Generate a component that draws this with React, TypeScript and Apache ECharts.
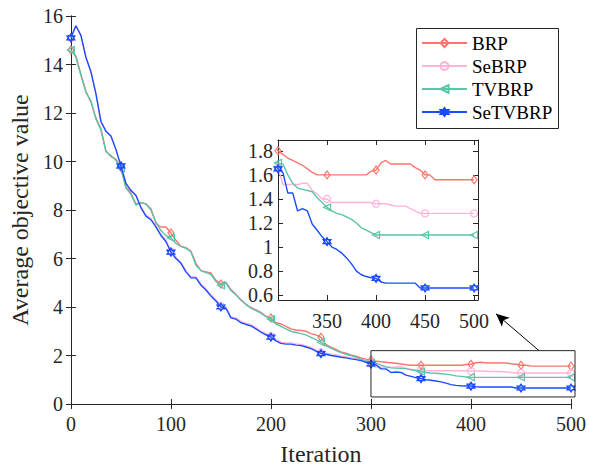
import React, { useEffect, useRef } from "react";
import * as echarts from "echarts";

// Iterations sampled every 5 steps, 0..500
const iterations: number[] = Array.from({ length: 101 }, (_, i) => i * 5);

const seriesNames = ["BRP", "SeBRP", "TVBRP", "SeTVBRP"];

const brpValues = [
  14.6, 14.35, 13.6, 12.9, 12.45, 11.8, 11.35, 10.45, 10.2, 10.1, 9.75,
  8.95, 8.7, 8.25, 8.3, 8.25, 8.05, 7.45, 7.3, 7.3, 7.05,
  6.75, 6.5, 6.45, 6.3, 5.8, 5.5, 5.45, 5.4, 5.1, 4.95,
  5.02, 4.72, 4.52, 4.3, 4.12, 3.98, 3.88, 3.78, 3.62, 3.55,
  3.35, 3.3, 3.2, 3.1, 3.05, 3.03, 3.0, 2.9, 2.85, 2.75,
  2.45, 2.35, 2.25, 2.15, 2.1, 2.02, 1.97, 1.9, 1.85, 1.8,
  1.77, 1.74, 1.72, 1.7, 1.68, 1.65, 1.62, 1.6, 1.6, 1.6,
  1.6, 1.6, 1.6, 1.6, 1.6, 1.6, 1.6, 1.6, 1.63, 1.64,
  1.7, 1.72, 1.69, 1.69, 1.69, 1.69, 1.69, 1.66, 1.64, 1.6,
  1.6, 1.56, 1.56, 1.56, 1.56, 1.56, 1.56, 1.56, 1.56, 1.56,
];

const sebrpValues = [
  15.1, 15.6, 15.2, 14.3, 13.7, 12.8, 11.65, 11.25, 11.05, 10.5, 9.82,
  9.12, 8.83, 8.63, 8.14, 7.8, 7.64, 7.34, 7.0, 6.75, 6.3,
  6.05, 5.85, 5.5, 5.25, 5.24, 4.95, 4.75, 4.5, 4.3, 4.05,
  4.0, 3.6, 3.55, 3.4, 3.33, 3.27, 3.15, 3.0, 2.9, 2.8,
  2.65, 2.55, 2.52, 2.52, 2.48, 2.46, 2.4, 2.33, 2.23, 2.13,
  2.1, 2.05, 2.02, 1.98, 1.95, 1.91, 1.88, 1.82, 1.74, 1.66,
  1.52, 1.52, 1.52, 1.52, 1.53, 1.53, 1.47, 1.44, 1.4, 1.4,
  1.37, 1.37, 1.37, 1.37, 1.37, 1.37, 1.37, 1.37, 1.37, 1.36,
  1.36, 1.36, 1.35, 1.34, 1.34, 1.34, 1.32, 1.3, 1.28, 1.28,
  1.28, 1.28, 1.28, 1.28, 1.28, 1.28, 1.28, 1.28, 1.28, 1.28,
];

const tvbrpValues = [
  14.6, 14.3, 13.55, 12.85, 12.5, 11.75, 11.3, 10.4, 10.25, 10.05, 9.72,
  8.9, 8.65, 8.2, 8.3, 8.25, 8.0, 7.5, 7.15, 6.95, 6.85,
  6.62, 6.5, 6.42, 6.28, 5.72, 5.5, 5.42, 5.35, 5.05, 4.9,
  5.0, 4.68, 4.5, 4.28, 4.1, 3.95, 3.85, 3.75, 3.6, 3.5,
  3.3, 3.2, 3.1, 3.0, 2.95, 2.9, 2.85, 2.75, 2.65, 2.55,
  2.4, 2.3, 2.2, 2.12, 2.05, 2.0, 1.93, 1.85, 1.78, 1.7,
  1.69, 1.6, 1.53, 1.49, 1.48, 1.47, 1.46, 1.41, 1.37, 1.33,
  1.3, 1.28, 1.27, 1.25, 1.23, 1.2, 1.16, 1.14, 1.12, 1.1,
  1.1, 1.1, 1.1, 1.1, 1.1, 1.1, 1.1, 1.1, 1.1, 1.1,
  1.1, 1.1, 1.1, 1.1, 1.1, 1.1, 1.1, 1.1, 1.1, 1.1,
];

const setvbrpValues = [
  15.1, 15.6, 15.2, 14.3, 13.7, 12.8, 11.65, 11.25, 11.05, 10.5, 9.82,
  9.1, 8.8, 8.6, 8.1, 7.75, 7.6, 7.3, 6.95, 6.7, 6.26,
  6.0, 5.8, 5.45, 5.2, 5.2, 4.9, 4.7, 4.45, 4.25, 4.0,
  3.95, 3.55, 3.5, 3.35, 3.28, 3.22, 3.1, 2.96, 2.85, 2.76,
  2.6, 2.5, 2.47, 2.47, 2.43, 2.41, 2.35, 2.28, 2.18, 2.08,
  2.05, 2.0, 1.97, 1.93, 1.9, 1.86, 1.83, 1.79, 1.72, 1.65,
  1.62, 1.45, 1.45, 1.3, 1.32, 1.3, 1.19, 1.14, 1.085, 1.045,
  1.0, 0.98, 0.95, 0.91, 0.86, 0.8, 0.77, 0.755, 0.745, 0.74,
  0.71, 0.7, 0.7, 0.7, 0.7, 0.7, 0.7, 0.7, 0.66, 0.66,
  0.66, 0.66, 0.66, 0.66, 0.66, 0.66, 0.66, 0.66, 0.66, 0.66,
];

const mainXTicks = { min: 0, max: 500, interval: 100 };
const mainYTicks = { min: 0, max: 16, interval: 2 };
const insetXRange = [300, 504];
const insetYRange = [0.56, 1.89];
const insetXTickValues = [350, 400, 450, 500];
const insetYTickValues = [0.6, 0.8, 1.0, 1.2, 1.4, 1.6, 1.8];
const markerEvery = 50;

// zoom rectangle and arrow (data coordinates)
const zoomBox = { x0: 300, x1: 504, y0: 0.29, y1: 2.2 };
const arrowFrom = [468, 2.2];
const arrowTo = [425, 3.72];

const colors = ["#F8766D", "#FFB3DA", "#5BC4A8", "#1A4CFF"];
const symbols = [
  "diamond",
  "circle",
  "path://M0,5L8.66,0L8.66,10Z",
  "path://M0,-10L8.66,5L-8.66,5Z M0,10L8.66,-5L-8.66,-5Z",
];
const symbolSizes: any[] = [[6, 8], 7, 7, 8];

const FONT = "'Liberation Serif', 'Times New Roman', serif";
const INK = "#262626";

export default function App() {
  const ref = useRef<HTMLDivElement>(null);

  useEffect(() => {
    if (!ref.current) return;
    const chart = echarts.init(ref.current, undefined, { renderer: "svg" });
    const valueSets = [brpValues, sebrpValues, tvbrpValues, setvbrpValues];

    const makeData = (vals: number[]) =>
      iterations.map((x, i) =>
        x % markerEvery === 0
          ? { value: [x, vals[i]] }
          : { value: [x, vals[i]], symbol: "none" }
      );

    const baseSeries = (k: number, grid: number) => ({
      type: "line",
      name: seriesNames[k],
      xAxisIndex: grid === 0 ? 0 : 2,
      yAxisIndex: grid === 0 ? 0 : 2,
      data: makeData(valueSets[k]),
      symbol: symbols[k],
      symbolSize: symbolSizes[k],
      showSymbol: true,
      lineStyle: { color: colors[k], width: 1.4 },
      itemStyle: { color: "rgba(255,255,255,0)", borderColor: colors[k], borderWidth: 1.2 },
      emphasis: { disabled: true },
      silent: true,
      z: 2 + k,
    });

    const mainSeries: any[] = seriesNames.map((_, k) => baseSeries(k, 0));
    mainSeries[0] = {
      ...mainSeries[0],
      markLine: {
        silent: true,
        symbol: ["none", "arrow"],
        symbolSize: [9, 13],
        label: { show: false },
        lineStyle: { color: "#000", width: 1, type: "solid" },
        data: [[{ coord: arrowFrom }, { coord: arrowTo }]],
      },
    };
    const insetSeries = seriesNames.map((_, k) => ({ ...baseSeries(k, 1), z: 10 + k }));

    const axisCommon = {
      axisLine: { show: true, lineStyle: { color: INK, width: 1 } },
      axisTick: { show: true, inside: true, length: 5, lineStyle: { color: INK } },
      splitLine: { show: false },
      axisLabel: { color: INK, fontSize: 20, fontFamily: FONT },
    };
    const mirror = { axisLabel: { show: false } };

    const fmt = (v: number) => String(Number(v.toFixed(1)));

    const option: any = {
      animation: false,
      backgroundColor: "#fff",
      textStyle: { fontFamily: FONT },
      grid: [
        { left: 67, top: 16, width: 504, height: 389, containLabel: false },
        {
          left: 278, top: 140, width: 200, height: 160, containLabel: false,
          show: true, backgroundColor: "#fff", borderWidth: 0, z: 8,
        },
      ],
      graphic: [
        {
          id: "legendFrame",
          type: "rect",
          silent: true,
          z: 19,
          shape: { x: 416.5, y: 28.5, width: 142, height: 100 },
          style: { fill: "#fff", stroke: INK, lineWidth: 1 },
        },
      ],
      legend: {
        data: seriesNames,
        orient: "vertical",
        left: 421,
        top: 33,
        padding: 0,
        itemWidth: 45,
        itemHeight: 10,
        itemGap: 3,
        textStyle: { color: "#000", fontSize: 19, lineHeight: 20, fontFamily: FONT },
        selectedMode: false,
        z: 20,
      },
      xAxis: [
        {
          ...axisCommon,
          type: "value",
          gridIndex: 0,
          position: "bottom",
          ...mainXTicks,
          axisLabel: { ...axisCommon.axisLabel, margin: 10 },
          name: "Iteration",
          nameLocation: "middle",
          nameGap: 38,
          nameTextStyle: { color: INK, fontSize: 24, fontFamily: FONT },
        },
        { ...axisCommon, ...mirror, type: "value", gridIndex: 0, position: "top", ...mainXTicks },
        {
          ...axisCommon,
          type: "value",
          gridIndex: 1,
          position: "bottom",
          min: insetXRange[0],
          max: insetXRange[1],
          axisTick: { ...axisCommon.axisTick, customValues: insetXTickValues },
          axisLabel: { ...axisCommon.axisLabel, margin: 11, customValues: insetXTickValues },
          z: 9,
        },
        {
          ...axisCommon,
          ...mirror,
          type: "value",
          gridIndex: 1,
          position: "top",
          min: insetXRange[0],
          max: insetXRange[1],
          axisTick: { ...axisCommon.axisTick, customValues: insetXTickValues },
          z: 9,
        },
      ],
      yAxis: [
        {
          ...axisCommon,
          type: "value",
          gridIndex: 0,
          position: "left",
          ...mainYTicks,
          axisLabel: { ...axisCommon.axisLabel, margin: 8 },
          name: "Average objective value",
          nameLocation: "middle",
          nameGap: 38,
          nameTextStyle: { color: INK, fontSize: 24, fontFamily: FONT },
        },
        { ...axisCommon, ...mirror, type: "value", gridIndex: 0, position: "right", ...mainYTicks },
        {
          ...axisCommon,
          type: "value",
          gridIndex: 1,
          position: "left",
          min: insetYRange[0],
          max: insetYRange[1],
          axisTick: { ...axisCommon.axisTick, customValues: insetYTickValues },
          axisLabel: { ...axisCommon.axisLabel, margin: 5, customValues: insetYTickValues, formatter: fmt },
          z: 9,
        },
        {
          ...axisCommon,
          ...mirror,
          type: "value",
          gridIndex: 1,
          position: "right",
          min: insetYRange[0],
          max: insetYRange[1],
          axisTick: { ...axisCommon.axisTick, customValues: insetYTickValues },
          z: 9,
        },
      ],
      series: [...mainSeries, ...insetSeries],
    };

    chart.setOption(option);

    // zoom rectangle placed through the main grid's scales
    const p0 = chart.convertToPixel({ gridIndex: 0 } as any, [zoomBox.x0, zoomBox.y1]) as number[];
    const p1 = chart.convertToPixel({ gridIndex: 0 } as any, [zoomBox.x1, zoomBox.y0]) as number[];
    if (p0 && p1) {
      chart.setOption({
        graphic: [
          {
            id: "zoomBox",
            type: "rect",
            silent: true,
            z: 6,
            shape: { x: p0[0], y: p0[1], width: p1[0] - p0[0], height: p1[1] - p0[1] },
            style: { fill: "none", stroke: INK, lineWidth: 1 },
          },
        ],
      });
    }

    return () => chart.dispose();
  }, []);

  return (
    <div
      ref={ref}
      style={{ position: "fixed", left: 0, top: 0, width: 589, height: 471, background: "#fff" }}
    />
  );
}
